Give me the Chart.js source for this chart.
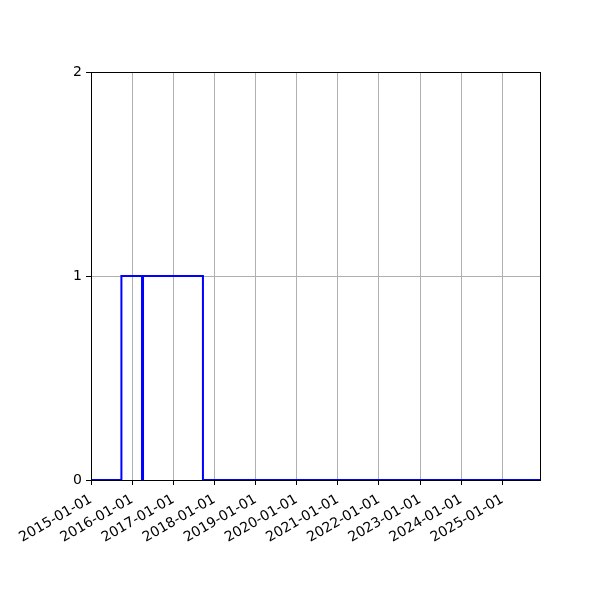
<!DOCTYPE html>
<html>
<head>
<meta charset="utf-8">
<script src="https://cdn.jsdelivr.net/npm/chart.js@4"></script>
<style>
html,body{margin:0;padding:0;background:#fff;}
#wrap{width:600px;height:600px;}
</style>
</head>
<body>
<div id="wrap"><canvas id="c" width="600" height="600"></canvas></div>
<script>
// Data
const stepDates = ['2015-01-01','2015-09-28','2016-03-29','2016-04-07','2017-09-21','2025-12-01'];
const stepValues = [0, 1, 0, 1, 0, 0];
const xTickLabels = ['2015-01-01','2016-01-01','2017-01-01','2018-01-01','2019-01-01','2020-01-01','2021-01-01','2022-01-01','2023-01-01','2024-01-01','2025-01-01'];
const yTickValues = [0, 1, 2];
const xMinDate = '2015-01-01';
const xMaxDate = '2025-12-01';

const toMs = s => Date.parse(s + 'T00:00:00Z');
const points = stepDates.map((d, i) => ({x: toMs(d), y: stepValues[i]}));
const xTickMs = xTickLabels.map(toMs);

const framePlugin = {
  id: 'frame',
  afterDraw(chart) {
    const {ctx, chartArea: a} = chart;
    ctx.save();
    ctx.strokeStyle = '#000';
    ctx.lineWidth = 1;
    ctx.strokeRect(Math.round(a.left) + 0.5, Math.round(a.top) + 0.5, Math.round(a.right - a.left), Math.round(a.bottom - a.top));
    ctx.restore();
  }
};

Chart.defaults.font.family = "'DejaVu Sans', sans-serif";
Chart.defaults.font.size = 14;
Chart.defaults.color = '#000';

new Chart(document.getElementById('c'), {
  type: 'line',
  data: {
    datasets: [{
      data: points,
      stepped: 'before',
      borderColor: '#0000ff',
      borderWidth: 2,
      pointRadius: 0,
      fill: false,
      tension: 0
    }]
  },
  options: {
    responsive: false,
    animation: false,
    layout: {padding: {left: 0, right: 60, top: 72, bottom: 0}},
    plugins: {legend: {display: false}, tooltip: {enabled: false}},
    scales: {
      x: {
        type: 'linear',
        min: toMs(xMinDate),
        max: toMs(xMaxDate),
        afterBuildTicks(scale) { scale.ticks = xTickMs.map(v => ({value: v})); },
        afterFit(scale) { scale.height = 120; },
        ticks: {
          autoSkip: false,
          maxRotation: 30,
          minRotation: 30,
          padding: 6,
          callback(v) { return new Date(v).toISOString().slice(0, 10); }
        },
        grid: {color: '#b0b0b0', lineWidth: 1, tickColor: '#000', tickLength: 5, drawTicks: true},
        border: {color: '#000', width: 1}
      },
      y: {
        type: 'linear',
        min: 0,
        max: 2,
        afterBuildTicks(scale) { scale.ticks = yTickValues.map(v => ({value: v})); },
        afterFit(scale) { scale.width = 91; },
        ticks: {padding: 4, callback(v) { return String(v); }},
        grid: {color: '#b0b0b0', lineWidth: 1, tickColor: '#000', tickLength: 5, drawTicks: true},
        border: {color: '#000', width: 1}
      }
    }
  },
  plugins: [framePlugin]
});
</script>
</body>
</html>
